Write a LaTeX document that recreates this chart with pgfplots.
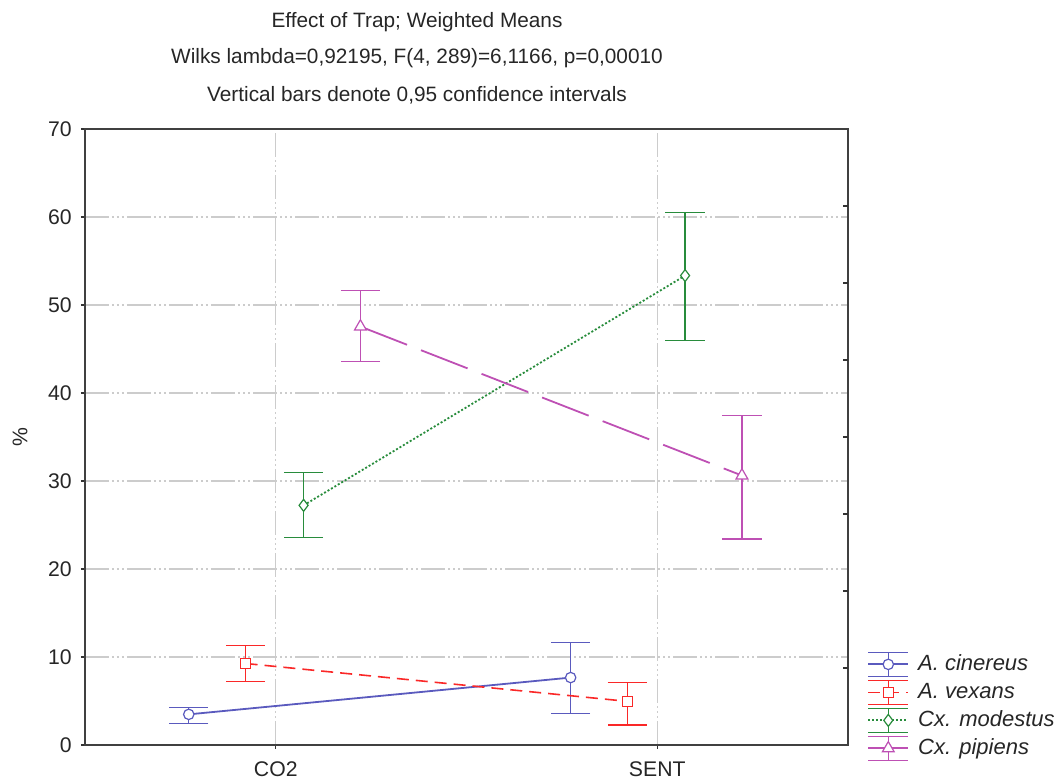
\documentclass[border=0pt]{standalone}
\usepackage{fontspec}
\setmainfont{Liberation Sans}
\usepackage{pgfplots}
\pgfplotsset{compat=1.18}

\definecolor{cin}{RGB}{90,90,190}
\definecolor{vex}{RGB}{250,40,40}
\definecolor{mod}{RGB}{40,140,60}
\definecolor{pip}{RGB}{190,80,180}

\begin{document}
\begin{tikzpicture}
\useasboundingbox (-42.5pt,-17pt) rectangle (488.5pt,372.5pt);
\begin{axis}[
  at={(0pt,0pt)}, anchor=south west,
  scale only axis, width=381.5pt, height=308pt,
  xmin=-0.5, xmax=1.5, ymin=0, ymax=70,
  xtick={0,1}, xticklabels={CO2,SENT},
  ytick={0,10,...,70},
  xtick pos=bottom, ytick pos=left,
  tick align=outside, major tick length=2pt,
  tick style={black!80, line width=0.6pt},
  axis line style={black!75, line width=0.8pt},
  /pgf/number format/assume math mode=true,
  tick label style={font=\fontsize{10.6}{12}\selectfont, text=black!85},
  yticklabel style={inner sep=0pt, xshift=-4.5pt},
  xticklabel style={inner sep=0pt, yshift=-6pt},
  grid=major,
  major grid style={gray!40, line width=0.6pt,
    dash pattern=on 12pt off 1.5pt on 1pt off 1.5pt on 1pt off 1.5pt on 1pt off 1.5pt},
  ylabel={\%},
  every axis y label/.style={at={(axis description cs:0,0.5)}, xshift=-32.5pt,
    rotate=90, anchor=center, font=\fontsize{10.6}{12}\selectfont, text=black!85},
  error bars/y dir=both, error bars/y explicit,
  error bars/error bar style={solid, line width=0.6pt},
  error bars/error mark options={rotate=90, mark size=9.8pt, line width=0.6pt, solid},
  legend image code/.code={%
    \draw[#1,solid,line width=0.6pt,mark=none] (0pt,6pt) -- (20pt,6pt)
      (0pt,-6pt) -- (20pt,-6pt) (10pt,6pt) -- (10pt,-6pt);
    \draw[#1,mark=none] (0pt,0pt) -- (20pt,0pt);
    \draw[#1,only marks] plot coordinates {(10pt,0pt)};
  },
  legend cell align=left,
  legend style={draw=none, fill=none, at={(1,0)}, anchor=north west,
    xshift=9.5pt, yshift=47pt, inner sep=0pt, row sep=1pt, column sep=3.5pt,
    nodes={inner sep=1pt, text height=8.5pt, text depth=2.5pt},
    font=\itshape\fontsize{11}{13}\selectfont, text=black!85},
]
\addplot[cin, solid, line width=0.9pt, mark=*, mark size=2.6pt,
  mark options={solid, fill=white, line width=0.6pt}]
  coordinates {(-0.228,3.48) +=(0,0.76) -=(0,1.06) (0.773,7.66) +=(0,3.95) -=(0,4.10)};
\addplot[vex, line width=0.8pt, dash pattern=on 6pt off 3.5pt, mark=square*, mark size=2.5pt,
  mark options={solid, fill=white, line width=0.6pt}]
  coordinates {(-0.079,9.26) +=(0,2.09) -=(0,2.02) (0.921,4.96) +=(0,2.13) -=(0,2.70)};
\addplot[mod, line width=0.9pt, dash pattern=on 1pt off 1pt, mark=diamond*, mark size=3pt,
  mark options={solid, fill=white, line width=0.6pt}]
  coordinates {(0.073,27.23) +=(0,3.76) -=(0,3.65) (1.073,53.34) +=(0,7.15) -=(0,7.33)};
\addplot[pip, line width=0.9pt, dash pattern=on 25pt off 7.5pt, mark=triangle*, mark size=3.4pt,
  mark options={solid, fill=white, line width=0.6pt}]
  coordinates {(0.222,47.55) +=(0,4.13) -=(0,3.97) (1.222,30.62) +=(0,6.84) -=(0,7.22)};
\legend{A. cinereus, A. vexans, Cx. modestus, Cx. pipiens}
\end{axis}
\begin{axis}[
  at={(0pt,0pt)}, anchor=south west,
  scale only axis, width=381.5pt, height=308pt,
  xmin=-0.5, xmax=1.5, ymin=0, ymax=70,
  hide x axis, axis y line*=right, axis line style={draw=none},
  ytick={8.75,17.5,26.25,35,43.75,52.5,61.25}, yticklabels={},
  tick align=inside, major tick length=2.5pt,
  tick style={black!80, line width=0.8pt},
]
\end{axis}
\begin{scope}[font=\fontsize{10.4}{12}\selectfont, text=black!85]
\node[anchor=base] at (166pt,358.8pt) {Effect of Trap; Weighted Means};
\node[anchor=base] at (166pt,340.5pt) {Wilks lambda=0,92195, F(4, 289)=6,1166, p=0,00010};
\node[anchor=base] at (166pt,321.5pt) {Vertical bars denote 0,95 confidence intervals};
\end{scope}
\end{tikzpicture}
\end{document}
